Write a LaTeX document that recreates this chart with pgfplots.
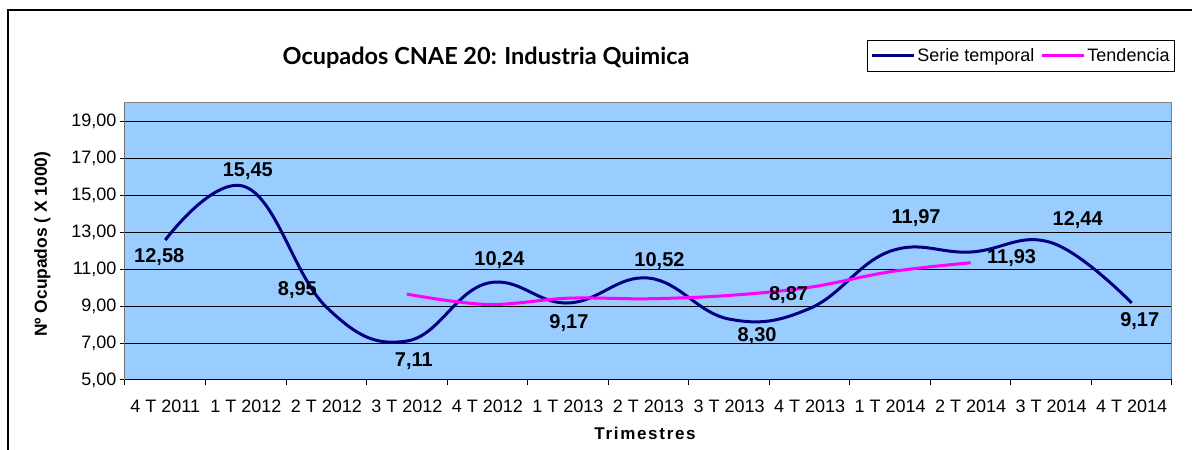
\documentclass[border=0pt]{standalone}
\usepackage{fontspec}
\setmainfont{Liberation Sans}
\newfontfamily\titlefont{Lato}
\newfontfamily\spacedfont{Liberation Sans}[LetterSpace=10]
\usepackage{pgfplots}
\pgfplotsset{compat=1.18}
\definecolor{plotbg}{RGB}{153,204,255}
\definecolor{navyline}{RGB}{0,0,128}
\definecolor{trendline}{RGB}{255,0,255}
\definecolor{framegray}{RGB}{128,128,128}
\begin{document}
\begin{tikzpicture}[x=1pt,y=1pt]
\path[use as bounding box] (0,0) rectangle (1192,450);
\draw[line width=1.5pt] (8,0) -- (8,440) -- (1192,440);
\begin{axis}[
  at={(125pt,70pt)}, anchor=south west,
  scale only axis, width=1047pt, height=277pt,
  xmin=-0.5, xmax=12.5, ymin=5, ymax=20,
  xtick={-0.5,0.5,1.5,2.5,3.5,4.5,5.5,6.5,7.5,8.5,9.5,10.5,11.5,12.5},
  x tick label as interval,
  xticklabels={4 T 2011,1 T 2012,2 T 2012,3 T 2012,4 T 2012,1 T 2013,2 T 2013,3 T 2013,4 T 2013,1 T 2014,2 T 2014,3 T 2014,4 T 2014},
  ytick={5,7,9,11,13,15,17,19},
  /pgf/number format/fixed,
  /pgf/number format/fixed zerofill,
  /pgf/number format/precision=2,
  /pgf/number format/use comma,
  /pgf/number format/assume math mode=true,
  tick align=outside,
  xtick pos=bottom, ytick pos=left,
  major tick length=5pt,
  tick style={black, line width=1pt},
  ticklabel style={font=\fontsize{18}{21}\selectfont},
  xticklabel style={yshift=-11pt},
  ymajorgrids,
  major grid style={black, line width=1pt},
  axis line style={draw=framegray, line width=1pt},
  axis background/.style={fill=plotbg},
  title={\titlefont\bfseries Ocupados CNAE 20: Industria Quimica},
  title style={at={(axis description cs:0.3448,1.119)}, anchor=base, font=\fontsize{23.5}{26}\selectfont},
  xlabel={\spacedfont\bfseries Trimestres},
  xlabel style={at={(axis description cs:0.4967,-0.2166)}, anchor=base, font=\fontsize{17}{20}\selectfont},
  ylabel={\bfseries Nº Ocupados ( X 1000)},
  ylabel style={at={(axis description cs:-0.079,0.49)}, anchor=center, font=\fontsize{17.4}{20}\selectfont},
  legend columns=-1,
  legend image code/.code={\draw[#1] (0pt,0pt) -- (42pt,0pt);},
  legend style={at={(axis description cs:1.0029,1.2274)}, anchor=north east,
    draw=black, line width=1pt, fill=white, inner xsep=3pt, inner ysep=6pt,
    font=\fontsize{18}{21}\selectfont,
    /tikz/every even column/.append style={column sep=4pt}},
]
\addplot[navyline, line width=3pt, smooth, tension=0.7] coordinates {
  (0,12.58) (1,15.45) (2,8.95) (3,7.11) (4,10.24) (5,9.17) (6,10.52)
  (7,8.30) (8,8.87) (9,11.97) (10,11.93) (11,12.44) (12,9.17)
};
\addlegendentry{Serie temporal}
\addplot[trendline, line width=3pt, smooth, tension=0.6] coordinates {
  (3,9.65) (4,9.09) (5,9.43) (6,9.40) (7,9.58) (8,10.02) (9,10.86) (10,11.35)
};
\addlegendentry{Tendencia}
\draw[black, line width=1pt] (rel axis cs:0,1) -- (rel axis cs:0,0) -- (rel axis cs:1,0);
\tikzset{lab/.style={font=\bfseries\fontsize{20}{22}\selectfont, inner sep=0pt}}
\node[lab, xshift=-6pt, yshift=-17pt] at (axis cs:0,12.58) {12,58};
\node[lab, xshift=2pt, yshift=16pt] at (axis cs:1,15.45) {15,45};
\node[lab, xshift=-29pt, yshift=16.5pt] at (axis cs:2,8.95) {8,95};
\node[lab, xshift=7pt, yshift=-20pt] at (axis cs:3,7.11) {7,11};
\node[lab, xshift=12pt, yshift=23pt] at (axis cs:4,10.24) {10,24};
\node[lab, xshift=1pt, yshift=-20.5pt] at (axis cs:5,9.17) {9,17};
\node[lab, xshift=11pt, yshift=17pt] at (axis cs:6,10.52) {10,52};
\node[lab, xshift=28pt, yshift=-17pt] at (axis cs:7,8.30) {8,30};
\node[lab, xshift=-21pt, yshift=13pt] at (axis cs:8,8.87) {8,87};
\node[lab, xshift=26pt, yshift=33.5pt] at (axis cs:9,11.97) {11,97};
\node[lab, xshift=41pt, yshift=-6pt] at (axis cs:10,11.93) {11,93};
\node[lab, xshift=26.5pt, yshift=23pt] at (axis cs:11,12.44) {12,44};
\node[lab, xshift=8pt, yshift=-18pt] at (axis cs:12,9.17) {9,17};
\end{axis}
\end{tikzpicture}
\end{document}
